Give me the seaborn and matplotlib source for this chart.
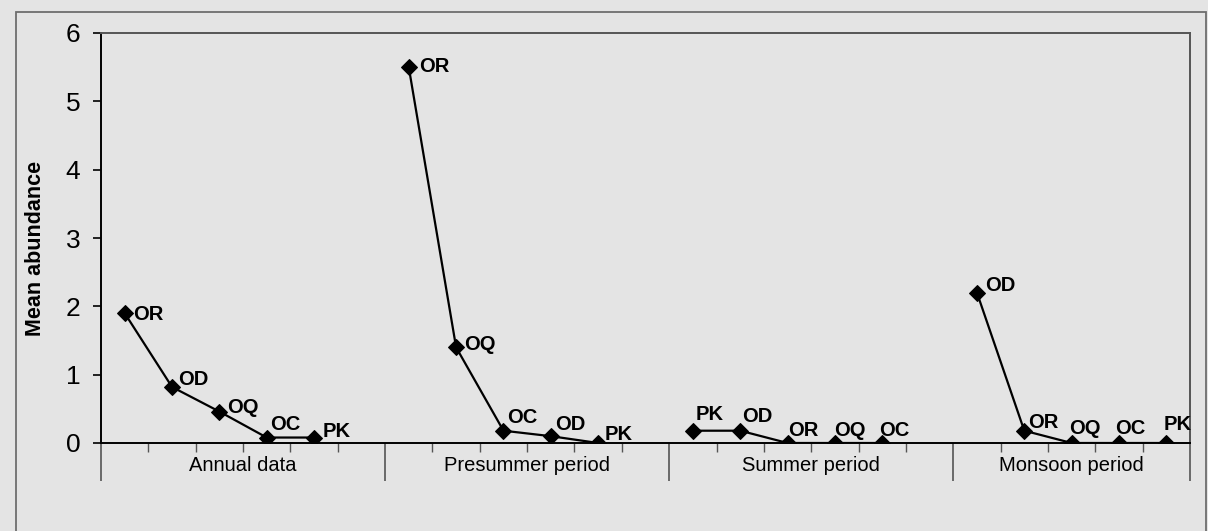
import numpy as np
import pandas as pd
import seaborn as sns
import matplotlib

matplotlib.use('Agg')
import matplotlib.pyplot as plt
from matplotlib.patches import Rectangle

# Datos
periodos = ['Annual data', 'Presummer period', 'Summer period', 'Monsoon period']
sitios_anual = ['OR', 'OD', 'OQ', 'OC', 'PK']
valores_anual = [1.9, 0.82, 0.46, 0.08, 0.08]
sitios_presummer = ['OR', 'OQ', 'OC', 'OD', 'PK']
valores_presummer = [5.5, 1.4, 0.18, 0.1, 0.0]
sitios_summer = ['PK', 'OD', 'OR', 'OQ', 'OC']
valores_summer = [0.18, 0.18, 0.0, 0.0, 0.0]
sitios_monsoon = ['OD', 'OR', 'OQ', 'OC', 'PK']
valores_monsoon = [2.2, 0.18, 0.0, 0.0, 0.0]
y_ticks = [0, 1, 2, 3, 4, 5, 6]

# desplazamiento de cada etiqueta en pixeles (dx, dy)
desplazamientos = [
    (8, -1), (6, 7), (8, 4), (3, 13), (9, 6),
    (10, 1), (8, 3), (4, 13), (4, 12), (6, 8),
    (3, 16), (2, 14), (1, 13), (-1, 13), (-3, 13),
    (8, 7), (4, 8), (-3, 15), (-4, 15), (-3, 18),
]

sitios = [sitios_anual, sitios_presummer, sitios_summer, sitios_monsoon]
valores = [valores_anual, valores_presummer, valores_summer, valores_monsoon]

filas = []
for g, (periodo, ss, vv) in enumerate(zip(periodos, sitios, valores)):
    for i, (s, v) in enumerate(zip(ss, vv)):
        filas.append({'Periodo': periodo, 'Sitio': s, 'Valor': v, 'Pos': g * 6 + i + 0.5})
df = pd.DataFrame(filas)

sns.set_theme(style='white')
plt.rcParams['font.family'] = ['Liberation Sans', 'DejaVu Sans']
fondo = '#e4e4e4'

fig = plt.figure(figsize=(12.08, 5.31), dpi=100, facecolor=fondo)
ax = fig.add_axes([101 / 1208, 1 - 443 / 531, 1089 / 1208, 410 / 531])
ax.set_facecolor(fondo)

# marco exterior
fig.patches.append(Rectangle((16 / 1208, -0.05), 1190 / 1208, 1.05 - 12 / 531,
                             transform=fig.transFigure, fill=False,
                             edgecolor='#6e6e6e', linewidth=1.3, zorder=0))

sns.lineplot(data=df, x='Pos', y='Valor', units='Periodo', estimator=None,
             sort=False, color='black', linewidth=1.6, marker='D',
             markersize=8.5, markeredgecolor='black', markerfacecolor='black',
             ax=ax, legend=False)

for (_, fila), (dx, dy) in zip(df.iterrows(), desplazamientos):
    ax.annotate(fila['Sitio'], (fila['Pos'], fila['Valor']), xytext=(dx, dy),
                textcoords='offset pixels', ha='left', va='center',
                fontsize=14.5, fontweight='bold', color='black')

ax.set_xlim(0, 23)
ax.set_ylim(0, 6)
ax.set_yticks(y_ticks)
ax.set_yticklabels([str(t) for t in y_ticks], fontsize=19, color='black')
ax.tick_params(axis='y', direction='out', length=6, width=1.2, color='black',
               pad=9, left=True)

separadores = [0, 6, 12, 18, 23]
ax.set_xticks(separadores)
ax.set_xticklabels([])
ax.set_xticks([i for i in range(1, 23) if i not in separadores], minor=True)
ax.tick_params(axis='x', which='major', direction='out', length=27, width=1.2,
               color='#555555', bottom=True)
ax.tick_params(axis='x', which='minor', direction='out', length=6.5, width=1.0,
               color='#555555', bottom=True)

centros = [3, 9, 15, 20.5]
for c, periodo in zip(centros, periodos):
    ax.text(c, -0.054, periodo, transform=ax.get_xaxis_transform(),
            ha='center', va='center', fontsize=14.5, color='black')

ax.set_xlabel('')
ax.set_ylabel('Mean abundance', fontsize=15.5, fontweight='bold', color='black',
              va='center')
ax.yaxis.set_label_coords(-0.06, 0.475)

for lado in ['left', 'bottom']:
    ax.spines[lado].set_color('black')
    ax.spines[lado].set_linewidth(1.4)
for lado in ['top', 'right']:
    ax.spines[lado].set_color('#555555')
    ax.spines[lado].set_linewidth(1.4)

fig.savefig('out.png', dpi=100, facecolor=fondo)
